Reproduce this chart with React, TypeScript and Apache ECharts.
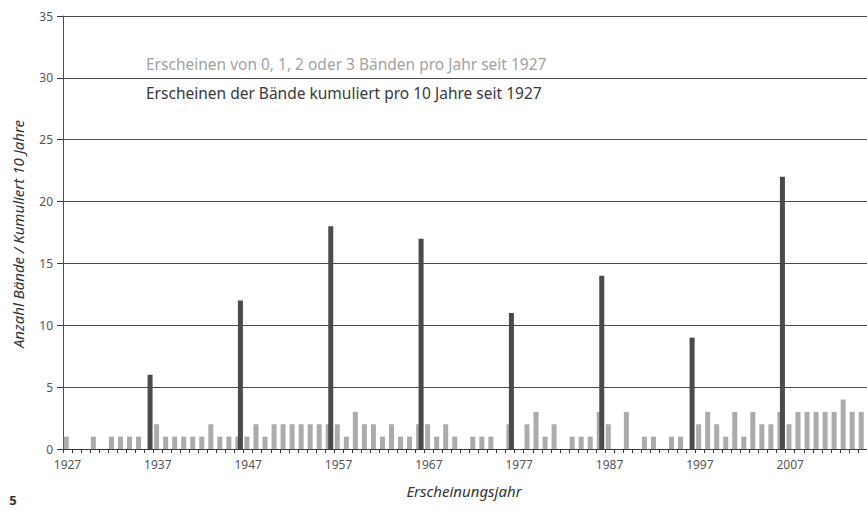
import React, { useEffect, useRef } from "react";
import * as echarts from "echarts";

const years: string[] = Array.from({ length: 89 }, (_, i) => String(1927 + i));

// Volumes published per year (1927–2015)
const perYear: number[] = [
  1, 0, 0, 1, 0, 1, 1, 1, 1, 0,
  2, 1, 1, 1, 1, 1, 2, 1, 1, 1,
  1, 2, 1, 2, 2, 2, 2, 2, 2, 2,
  2, 1, 3, 2, 2, 1, 2, 1, 1, 2,
  2, 1, 2, 1, 0, 1, 1, 1, 0, 2,
  0, 2, 3, 1, 2, 0, 1, 1, 1, 3,
  2, 0, 3, 0, 1, 1, 0, 1, 1, 0,
  2, 3, 2, 1, 3, 1, 3, 2, 2, 3,
  2, 3, 3, 3, 3, 3, 4, 3, 3,
];

// Cumulative per 10 years
const decadeYears: string[] = ["1936", "1946", "1956", "1966", "1976", "1986", "1996", "2006"];
const decadeTotals: number[] = [6, 12, 18, 17, 11, 14, 9, 22];

const yTicks = { min: 0, max: 35, interval: 5 };

const legendLight = "Erscheinen von 0, 1, 2 oder 3 Bänden pro Jahr seit 1927";
const legendDark = "Erscheinen der Bände kumuliert pro 10 Jahre seit 1927";
const yTitle = "Anzahl Bände / Kumuliert 10 Jahre";
const xTitle = "Erscheinungsjahr";

const FONT = "'Noto Sans', 'Open Sans', sans-serif";

export default function App() {
  const ref = useRef<HTMLDivElement>(null);
  useEffect(() => {
    if (!ref.current) return;
    const chart = echarts.init(ref.current, null, { renderer: "svg" });
    const cumulative = years.map((y) => {
      const idx = decadeYears.indexOf(y);
      return idx >= 0 ? decadeTotals[idx] : null;
    });
    chart.setOption({
      animation: false,
      backgroundColor: "#ffffff",
      textStyle: { fontFamily: FONT },
      grid: { left: 63, right: 0, top: 16, bottom: 61, containLabel: false },
      xAxis: {
        type: "category",
        data: years,
        boundaryGap: true,
        axisLine: { show: true, lineStyle: { color: "#3a3a3a", width: 1 } },
        axisTick: { show: true, interval: 0, length: 4, alignWithLabel: false, lineStyle: { color: "#3a3a3a" } },
        axisLabel: { interval: 9, color: "#555", fontSize: 12, margin: 9, fontFamily: FONT },
        splitLine: { show: false },
      },
      yAxis: {
        type: "value",
        min: yTicks.min,
        max: yTicks.max,
        interval: yTicks.interval,
        axisLine: { show: true, lineStyle: { color: "#7a3a3a", width: 1 } },
        axisTick: { show: true, length: 6, lineStyle: { color: "#3a3a3a" } },
        axisLabel: { color: "#555", fontSize: 12, margin: 10, fontFamily: FONT },
        splitLine: { show: true, lineStyle: { color: "#4a4a4a", width: 1 } },
      },
      series: [
        {
          name: legendLight,
          type: "bar",
          data: perYear,
          barWidth: 5,
          barGap: "-50%",
          itemStyle: { color: "#ababab" },
          z: 2,
        },
        {
          name: legendDark,
          type: "bar",
          data: cumulative,
          barWidth: 5,
          itemStyle: { color: "#4a4a4a" },
          z: 3,
        },
      ],
      graphic: [
        {
          type: "text",
          left: 146,
          top: 56,
          style: { text: legendLight, fill: "#a3a3a3", font: `15.5px ${FONT}` },
        },
        {
          type: "text",
          left: 146,
          top: 85,
          style: { text: legendDark, fill: "#3a3a3a", font: `15.5px ${FONT}` },
        },
        {
          type: "text",
          x: 18,
          y: 234,
          rotation: Math.PI / 2,
          style: {
            text: yTitle,
            fill: "#333",
            font: `italic 15px ${FONT}`,
            align: "center",
            verticalAlign: "middle",
          },
        },
        {
          type: "text",
          x: 464,
          y: 491,
          style: {
            text: xTitle,
            fill: "#333",
            font: `italic 15px ${FONT}`,
            align: "center",
            verticalAlign: "middle",
          },
        },
        {
          type: "text",
          x: 13,
          y: 500,
          style: {
            text: "5",
            fill: "#333",
            font: `bold 13px ${FONT}`,
            align: "center",
            verticalAlign: "middle",
          },
        },
      ],
    });
    return () => chart.dispose();
  }, []);
  return (
    <div
      ref={ref}
      style={{ position: "fixed", left: 0, top: 0, width: 867, height: 510, background: "#fff" }}
    />
  );
}
